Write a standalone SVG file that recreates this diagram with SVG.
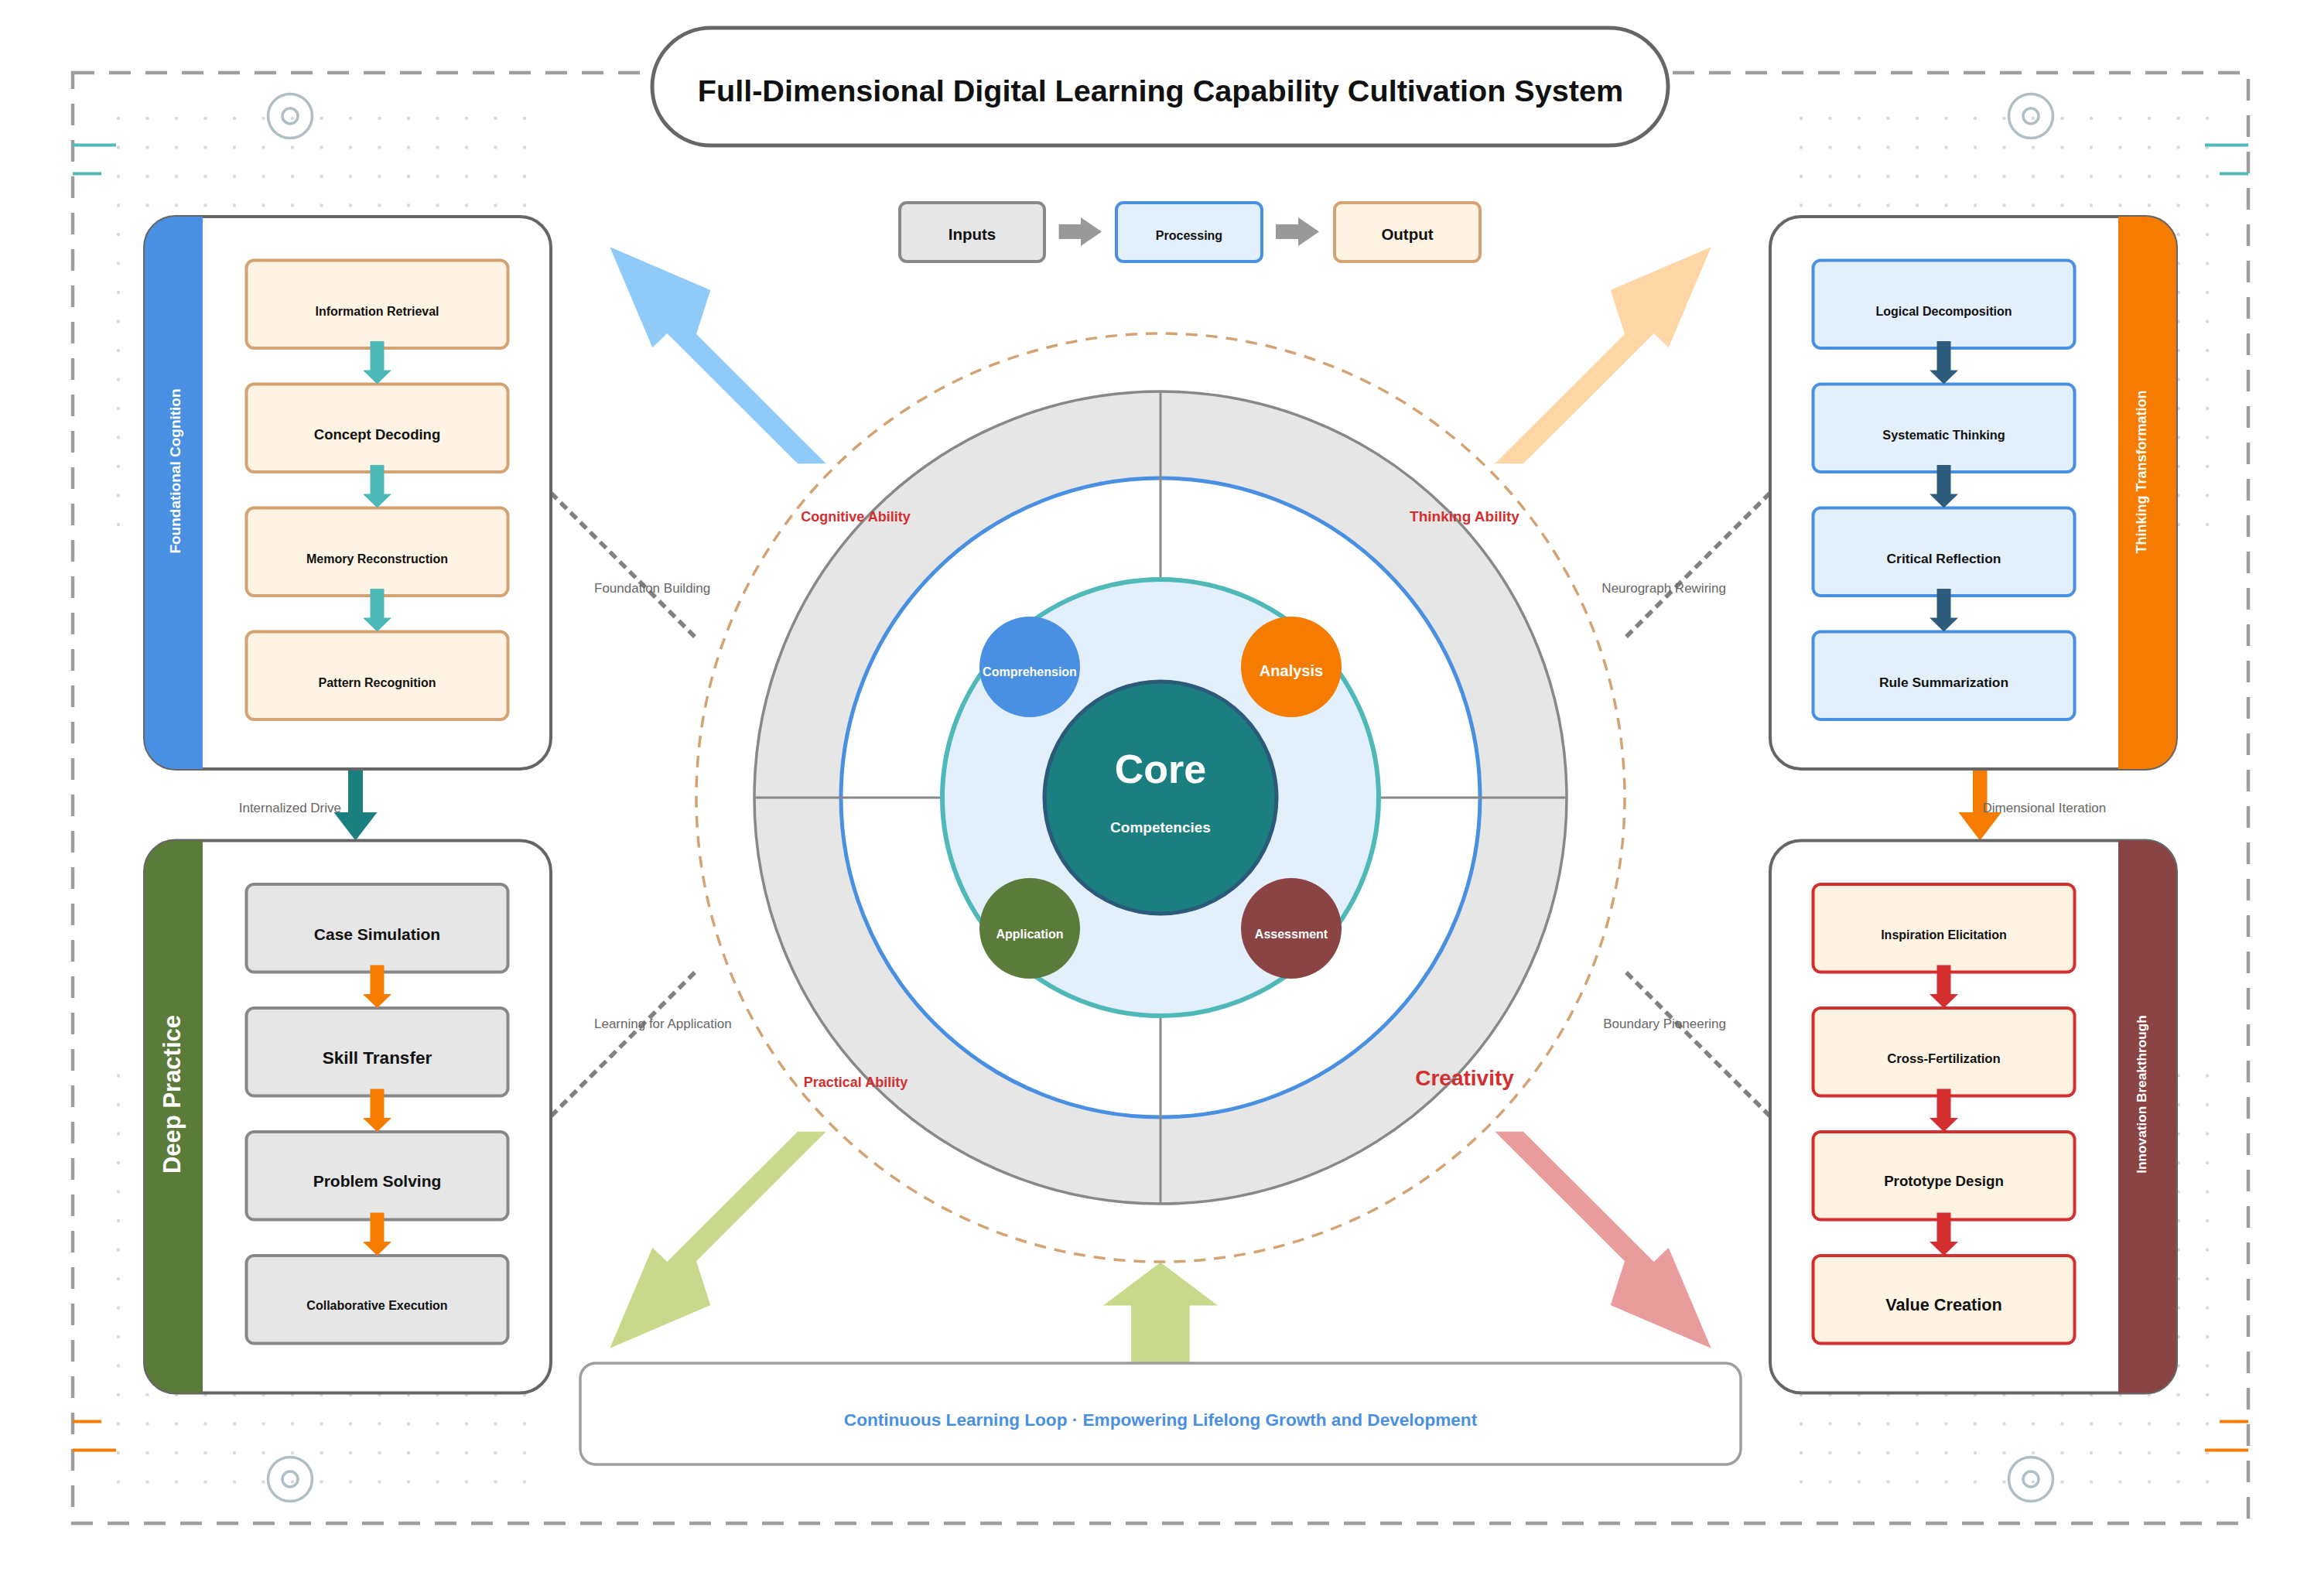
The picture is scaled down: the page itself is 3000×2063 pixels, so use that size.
<svg xmlns="http://www.w3.org/2000/svg" width="3000" height="2063" viewBox="0 0 3000 2063">
<defs>
<style>
text{font-family:"Liberation Sans",Arial,Helvetica,sans-serif;}
.b{font-weight:bold}
.c{text-anchor:middle}
.dk{fill:#111}
.lbl{fill:#666;font-size:17px}
.wt{fill:#fff;font-weight:bold;text-anchor:middle}
.ring{fill:#d32f2f;font-weight:bold;text-anchor:middle}
.panel{fill:#fff;stroke:#666;stroke-width:4}
.bx-tan{fill:#fff3e3;stroke:#d4a373;stroke-width:4}
.bx-gray{fill:#e6e6e6;stroke:#888;stroke-width:4}
.bx-blue{fill:#e3f0fb;stroke:#4a90e2;stroke-width:4}
.bx-red{fill:#fff3e3;stroke:#d32f2f;stroke-width:4}
.dashc{fill:none;stroke:#808080;stroke-width:5.5;stroke-dasharray:11 7}
.target{fill:none;stroke:#b0bec5;stroke-width:3.5}
.cm-t{stroke:#4fb8b8;stroke-width:4}
.cm-o{stroke:#f57c00;stroke-width:4}
</style>
<pattern id="dots" x="134.25" y="134.25" width="37.5" height="37.5" patternUnits="userSpaceOnUse">
<circle cx="18.75" cy="18.75" r="2.3" fill="#d9d9d9"/>
</pattern>
</defs>
<rect x="0" y="0" width="3000" height="2063" fill="#fff"/>

<g id="background">
<rect x="134.25" y="134.25" width="562.5" height="562.5" fill="url(#dots)"/>
<rect x="134.25" y="1371.75" width="562.5" height="562.5" fill="url(#dots)"/>
<rect x="2309.25" y="134.25" width="562.5" height="562.5" fill="url(#dots)"/>
<rect x="2309.25" y="1371.75" width="562.5" height="562.5" fill="url(#dots)"/>
<rect x="94" y="94" width="2812" height="1875" fill="none" stroke="#9e9e9e" stroke-width="4.5" stroke-dasharray="28 19"/>
<line class="cm-t" x1="94" y1="187.5" x2="150" y2="187.5"/>
<line class="cm-t" x1="94" y1="224.5" x2="131" y2="224.5"/>
<line class="cm-t" x1="2850" y1="187.5" x2="2906" y2="187.5"/>
<line class="cm-t" x1="2869" y1="224.5" x2="2906" y2="224.5"/>
<line class="cm-o" x1="94" y1="1837.6" x2="131" y2="1837.6"/>
<line class="cm-o" x1="94" y1="1874.4" x2="150" y2="1874.4"/>
<line class="cm-o" x1="2869" y1="1837.6" x2="2906" y2="1837.6"/>
<line class="cm-o" x1="2850" y1="1874.4" x2="2906" y2="1874.4"/>
<circle class="target" cx="375" cy="150" r="28.5"/><circle class="target" cx="375" cy="150" r="10"/>
<circle class="target" cx="2625" cy="150" r="28.5"/><circle class="target" cx="2625" cy="150" r="10"/>
<circle class="target" cx="375" cy="1912" r="28.5"/><circle class="target" cx="375" cy="1912" r="10"/>
<circle class="target" cx="2625" cy="1912" r="28.5"/><circle class="target" cx="2625" cy="1912" r="10"/>
</g>

<g id="title">
<rect x="843" y="36" width="1313" height="152" rx="76" fill="#fff" stroke="#666" stroke-width="5"/>
<text class="b c dk" x="1500" y="131" font-size="39.6">Full-Dimensional Digital Learning Capability Cultivation System</text>
</g>

<g id="flow">
<g id="node-inputs"><rect class="bx-gray" x="1163" y="262" width="187" height="76" rx="9"/><text class="b c dk" x="1256.5" y="310" font-size="20.5">Inputs</text></g>
<g id="node-processing"><rect class="bx-blue" x="1443" y="262" width="188" height="76" rx="9"/><text class="b c dk" x="1537" y="310" font-size="16">Processing</text></g>
<g id="node-output"><rect class="bx-tan" x="1725" y="262" width="188" height="76" rx="9"/><text class="b c dk" x="1819" y="310" font-size="20.5">Output</text></g>
</g>

<g id="connectors">
<rect x="1368.6" y="290" width="28.4" height="19" fill="#999"/>
<polygon points="1397,281 1424,299.5 1397,318" fill="#999"/>
<rect x="1649" y="290" width="29" height="19" fill="#999"/>
<polygon points="1678,281 1705,299.5 1678,318" fill="#999"/>

<polygon points="788.3,319.3 918.3,375 900,431.7 1067.7,599.3 1031,599.3 862.3,431 843.3,449.3" fill="#90caf9"/>
<polygon points="2211.7,319.3 2081.7,375 2100,431.7 1932.3,599.3 1969,599.3 2137.7,431 2156.7,449.3" fill="#ffd6a5"/>
<polygon points="788.3,1742.7 918.3,1687 900,1630.3 1067.7,1462.7 1031,1462.7 862.3,1631 843.3,1612.7" fill="#c8d98b"/>
<polygon points="2211.7,1742.7 2081.7,1687 2100,1630.3 1932.3,1462.7 1969,1462.7 2137.7,1631 2156.7,1612.7" fill="#e89c9c"/>
<polygon points="1462,1762 1462,1687.5 1426,1687.5 1500,1631.7 1574,1687.5 1537.6,1687.5 1537.6,1762" fill="#c8d98b"/>

<line class="dashc" x1="712" y1="637" x2="900" y2="825"/>
<line class="dashc" x1="2288" y1="637" x2="2100" y2="825"/>
<line class="dashc" x1="712" y1="1443" x2="900" y2="1255"/>
<line class="dashc" x1="2288" y1="1443" x2="2100" y2="1255"/>
<text class="lbl" x="768" y="766">Foundation Building</text>
<text class="lbl" x="2231" y="766" text-anchor="end">Neurograph Rewiring</text>
<text class="lbl" x="768" y="1329">Learning for Application</text>
<text class="lbl" x="2231" y="1329" text-anchor="end">Boundary Pioneering</text>

<rect x="450" y="994" width="19" height="56.5" fill="#1b7f7f"/>
<polygon points="431.5,1050 487.5,1050 459.5,1086.5" fill="#1b7f7f"/>
<text class="lbl" x="441" y="1050" text-anchor="end">Internalized Drive</text>
<rect x="2550" y="994" width="18.5" height="56.5" fill="#f57c00"/>
<polygon points="2531.5,1050 2587,1050 2559.2,1086.5" fill="#f57c00"/>
<text class="lbl" x="2562.5" y="1050">Dimensional Iteration</text>
</g>

<g id="core-wheel">
<circle cx="1500" cy="1031" r="525" fill="#e6e6e6" stroke="#888" stroke-width="3.5"/>
<circle cx="1500" cy="1031" r="413" fill="#fff" stroke="#4a90e2" stroke-width="5"/>
<line x1="1500" y1="506" x2="1500" y2="1556" stroke="#888" stroke-width="3"/>
<line x1="975" y1="1031" x2="2025" y2="1031" stroke="#888" stroke-width="3"/>
<circle cx="1500" cy="1031" r="282" fill="#e3f0fb" stroke="#4fb8b8" stroke-width="6"/>
<circle cx="1500" cy="1031" r="600" fill="none" stroke="#d4a373" stroke-width="3.5" stroke-dasharray="15 11"/>
<g id="node-core">
<circle cx="1500" cy="1031" r="150" fill="#1b7f7f" stroke="#2c5a7a" stroke-width="5"/>
<text class="wt" x="1500" y="1012" font-size="52">Core</text>
<text class="wt" x="1500" y="1076" font-size="19">Competencies</text>
</g>
<g id="node-comprehension"><circle cx="1331" cy="862" r="65" fill="#4a90e2"/><text class="wt" x="1331" y="874" font-size="16">Comprehension</text></g>
<g id="node-analysis"><circle cx="1669" cy="862" r="65" fill="#f57c00"/><text class="wt" x="1669" y="874" font-size="20">Analysis</text></g>
<g id="node-application"><circle cx="1331" cy="1200" r="65" fill="#5b7b3b"/><text class="wt" x="1331" y="1212.5" font-size="16">Application</text></g>
<g id="node-assessment"><circle cx="1669" cy="1200" r="65" fill="#8b4444"/><text class="wt" x="1669" y="1212.5" font-size="16">Assessment</text></g>
<text class="ring" x="1106" y="674" font-size="18">Cognitive Ability</text>
<text class="ring" x="1893" y="674" font-size="19">Thinking Ability</text>
<text class="ring" x="1106" y="1405" font-size="18">Practical Ability</text>
<text class="ring" x="1893" y="1403" font-size="28">Creativity</text>
</g>

<g id="panel-foundational-cognition">
<rect class="panel" x="187" y="280" width="525" height="714" rx="40"/>
<path d="M262,280 H227 A40,40 0 0 0 187,320 V954 A40,40 0 0 0 227,994 H262 Z" fill="#4a90e2"/>
<text class="wt" font-size="19" transform="translate(233,609) rotate(-90)">Foundational Cognition</text>
<rect class="bx-tan" x="318.5" y="336.5" width="338" height="113.5" rx="10"/>
<text class="b c dk" x="487.5" y="407.5" font-size="16">Information Retrieval</text>
<rect class="bx-tan" x="318.5" y="496.5" width="338" height="113.5" rx="10"/>
<text class="b c dk" x="487.5" y="567.5" font-size="18.5">Concept Decoding</text>
<rect class="bx-tan" x="318.5" y="656.5" width="338" height="113.5" rx="10"/>
<text class="b c dk" x="487.5" y="727.5" font-size="16">Memory Reconstruction</text>
<rect class="bx-tan" x="318.5" y="816.5" width="338" height="113.5" rx="10"/>
<text class="b c dk" x="487.5" y="887.5" font-size="16">Pattern Recognition</text>
<g fill="#4fb8b8">
<rect x="478.5" y="441" width="18" height="38"/><polygon points="469,478.5 506,478.5 487.5,496.5"/>
<rect x="478.5" y="601" width="18" height="38"/><polygon points="469,638.5 506,638.5 487.5,656.5"/>
<rect x="478.5" y="761" width="18" height="38"/><polygon points="469,798.5 506,798.5 487.5,816.5"/>
</g>
</g>

<g id="panel-deep-practice">
<rect class="panel" x="187" y="1086.5" width="525" height="714" rx="40"/>
<path d="M262,1086.5 H227 A40,40 0 0 0 187,1126.5 V1760.5 A40,40 0 0 0 227,1800.5 H262 Z" fill="#5b7b3b"/>
<text class="wt" font-size="31" transform="translate(232.5,1414.5) rotate(-90)">Deep Practice</text>
<rect class="bx-gray" x="318.5" y="1143" width="338" height="113.5" rx="10"/>
<text class="b c dk" x="487.5" y="1215" font-size="21">Case Simulation</text>
<rect class="bx-gray" x="318.5" y="1303" width="338" height="113.5" rx="10"/>
<text class="b c dk" x="487.5" y="1375" font-size="22.5">Skill Transfer</text>
<rect class="bx-gray" x="318.5" y="1463" width="338" height="113.5" rx="10"/>
<text class="b c dk" x="487.5" y="1534" font-size="21">Problem Solving</text>
<rect class="bx-gray" x="318.5" y="1623" width="338" height="113.5" rx="10"/>
<text class="b c dk" x="487.5" y="1693" font-size="16">Collaborative Execution</text>
<g fill="#f57c00">
<rect x="478.5" y="1247.5" width="18" height="38"/><polygon points="469,1285 506,1285 487.5,1303"/>
<rect x="478.5" y="1407.5" width="18" height="38"/><polygon points="469,1445 506,1445 487.5,1463"/>
<rect x="478.5" y="1567.5" width="18" height="38"/><polygon points="469,1605 506,1605 487.5,1623"/>
</g>
</g>

<g id="panel-thinking-transformation">
<rect class="panel" x="2288" y="280" width="525" height="714" rx="40"/>
<path d="M2738,280 H2773 A40,40 0 0 1 2813,320 V954 A40,40 0 0 1 2773,994 H2738 Z" fill="#f57c00"/>
<text class="wt" font-size="18" transform="translate(2774,610) rotate(-90)">Thinking Transformation</text>
<rect class="bx-blue" x="2343.5" y="336.5" width="338" height="113.5" rx="10"/>
<text class="b c dk" x="2512.5" y="407.5" font-size="16">Logical Decomposition</text>
<rect class="bx-blue" x="2343.5" y="496.5" width="338" height="113.5" rx="10"/>
<text class="b c dk" x="2512.5" y="567.5" font-size="16.3">Systematic Thinking</text>
<rect class="bx-blue" x="2343.5" y="656.5" width="338" height="113.5" rx="10"/>
<text class="b c dk" x="2512.5" y="727.5" font-size="17.4">Critical Reflection</text>
<rect class="bx-blue" x="2343.5" y="816.5" width="338" height="113.5" rx="10"/>
<text class="b c dk" x="2512.5" y="887.5" font-size="17.4">Rule Summarization</text>
<g fill="#2e5c7d">
<rect x="2503.5" y="441" width="18" height="38"/><polygon points="2494,478.5 2531,478.5 2512.5,496.5"/>
<rect x="2503.5" y="601" width="18" height="38"/><polygon points="2494,638.5 2531,638.5 2512.5,656.5"/>
<rect x="2503.5" y="761" width="18" height="38"/><polygon points="2494,798.5 2531,798.5 2512.5,816.5"/>
</g>
</g>

<g id="panel-innovation-breakthrough">
<rect class="panel" x="2288" y="1086.5" width="525" height="714" rx="40"/>
<path d="M2738,1086.5 H2773 A40,40 0 0 1 2813,1126.5 V1760.5 A40,40 0 0 1 2773,1800.5 H2738 Z" fill="#8b4444"/>
<text class="wt" font-size="17.2" transform="translate(2774,1414.5) rotate(-90)">Innovation Breakthrough</text>
<rect class="bx-red" x="2343.5" y="1143" width="338" height="113.5" rx="10"/>
<text class="b c dk" x="2512.5" y="1214" font-size="16">Inspiration Elicitation</text>
<rect class="bx-red" x="2343.5" y="1303" width="338" height="113.5" rx="10"/>
<text class="b c dk" x="2512.5" y="1374" font-size="16.7">Cross-Fertilization</text>
<rect class="bx-red" x="2343.5" y="1463" width="338" height="113.5" rx="10"/>
<text class="b c dk" x="2512.5" y="1533" font-size="18.7">Prototype Design</text>
<rect class="bx-red" x="2343.5" y="1623" width="338" height="113.5" rx="10"/>
<text class="b c dk" x="2512.5" y="1694" font-size="21.7">Value Creation</text>
<g fill="#d32f2f">
<rect x="2503.5" y="1247.5" width="18" height="38"/><polygon points="2494,1285 2531,1285 2512.5,1303"/>
<rect x="2503.5" y="1407.5" width="18" height="38"/><polygon points="2494,1445 2531,1445 2512.5,1463"/>
<rect x="2503.5" y="1567.5" width="18" height="38"/><polygon points="2494,1605 2531,1605 2512.5,1623"/>
</g>
</g>

<g id="banner">
<rect x="750" y="1762" width="1500" height="131" rx="20" fill="#fff" stroke="#9e9e9e" stroke-width="3.5"/>
<text class="b c" x="1500" y="1843" font-size="22.6" fill="#4a90e2">Continuous Learning Loop · Empowering Lifelong Growth and Development</text>
</g>
</svg>
